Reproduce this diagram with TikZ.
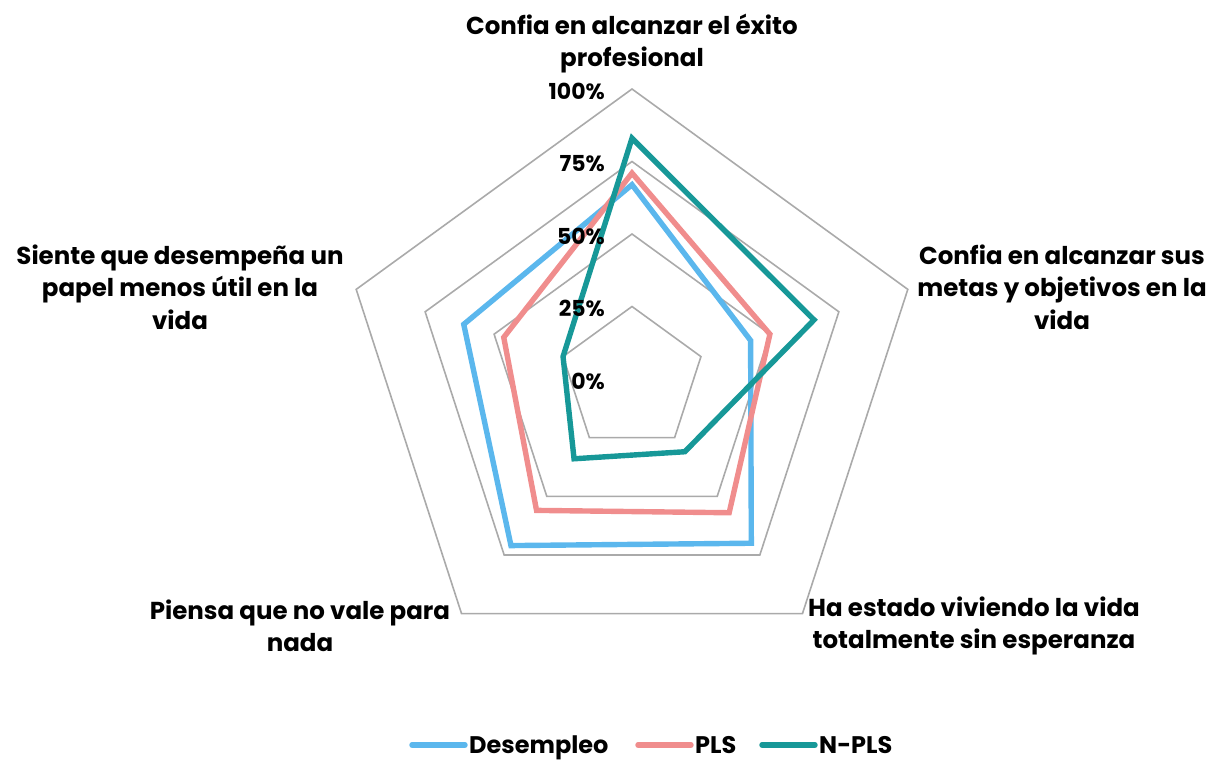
\documentclass[tikz,border=0pt]{standalone}
\usepackage{fontspec}
\setmainfont{Poppins}
\definecolor{desempleoblue}{RGB}{91,183,237}
\definecolor{plspink}{RGB}{240,141,141}
\definecolor{nplsteal}{RGB}{23,152,152}
\definecolor{gridgray}{RGB}{170,170,170}

\begin{document}
\begin{tikzpicture}[x=1pt, y=1pt,
        gridline/.style={draw=gridgray, line width=1.6pt, line join=miter},
        serie/.style={line width=5.4pt, line join=miter},
        axislabel/.style={align=center, font=\bfseries\fontsize{24.5}{32.5}\selectfont, inner sep=0pt},
        ticklabel/.style={anchor=east, font=\bfseries\fontsize{22}{24}\selectfont, inner sep=0pt},
        legendtext/.style={anchor=base west, font=\bfseries\fontsize{24}{26}\selectfont, inner sep=0pt}]

    \useasboundingbox (-632, -385) rectangle (582, 379);

    \pgfmathsetmacro{\rmax}{290}
    \pgfmathsetmacro{\ringstep}{72.5}

    % grid rings for 25, 50, 75 and 100 percent
    \foreach \k in {1, 2, 3, 4}
    \draw[gridline] (90:\k*\ringstep) -- (18:\k*\ringstep) -- (-54:\k*\ringstep) -- (-126:\k*\ringstep) -- (162:\k*\ringstep) -- cycle;

    % one closed line for each group
    \draw[serie, desempleoblue] (90:0.67*\rmax) -- (18:0.43*\rmax) -- (-54:0.70*\rmax) -- (-126:0.71*\rmax) -- (162:0.61*\rmax) -- cycle;
    \draw[serie, plspink] (90:0.71*\rmax) -- (18:0.50*\rmax) -- (-54:0.57*\rmax) -- (-126:0.56*\rmax) -- (162:0.465*\rmax) -- cycle;
    \draw[serie, nplsteal] (90:0.83*\rmax) -- (18:0.66*\rmax) -- (-54:0.31*\rmax) -- (-126:0.34*\rmax) -- (162:0.25*\rmax) -- cycle;

    % percentage labels along the top axis
    \foreach \k/\p in {0/0, 1/25, 2/50, 3/75, 4/100}
    \node[ticklabel] (tick\p) at (-27, \k*\ringstep-2) {\p\%};

    % axis titles
    \node[axislabel] (exito) at (0, 335.5) {Confia en alcanzar el éxito\\profesional};
    \node[axislabel] (metas) at (430, 92) {Confia en alcanzar sus\\metas y objetivos en la\\vida};
    \node[axislabel] (esperanza) at (342, -247) {Ha estado viviendo la vida\\totalmente sin esperanza};
    \node[axislabel] (nada) at (-332, -247) {Piensa que no vale para\\nada};
    \node[axislabel] (papel) at (-452, 92) {Siente que desempeña un\\papel menos útil en la\\vida};

    % legend
    \foreach \c/\name/\x [count=\i] in {desempleoblue/Desempleo/-220, plspink/PLS/6, nplsteal/N-PLS/130}{
            \coordinate (lega\i) at (\x, -366);
            \coordinate (legb\i) at (\x+53, -366);
            \draw[serie, \c, line cap=round] (lega\i) -- (legb\i);
            \node[legendtext] (legt\i) at (\x+57, -374) {\name};
        }

\end{tikzpicture}
\end{document}
